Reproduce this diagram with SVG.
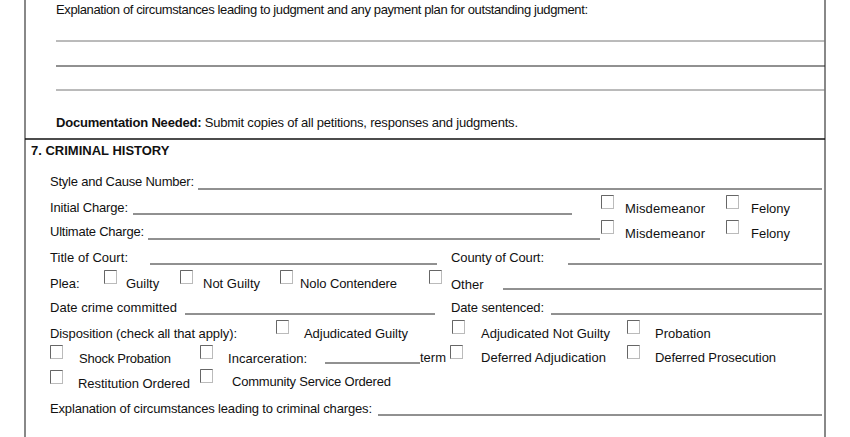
<svg xmlns="http://www.w3.org/2000/svg" width="850" height="437" viewBox="0 0 850 437">
<style>
text{font-family:"Liberation Sans",Arial,sans-serif;font-size:13px;fill:#111}
.b{font-weight:bold}
.l{stroke:#222;stroke-width:1}
.g{stroke:#777;stroke-width:1}
.cb{fill:#fff;stroke:#bbb;stroke-width:1}
.cbt{fill:none;stroke:#666;stroke-width:1}
</style>
<defs>
<g id="box"><rect class="cb" x="0.5" y="0.5" width="12" height="13"/><path class="cbt" d="M0.5 13.5V0.5H12.5"/></g>
</defs>
<rect width="850" height="437" fill="#fff"/>
<g id="frame">
<line x1="25" y1="0" x2="25" y2="437" stroke="#888" stroke-width="2"/>
<line x1="825" y1="0" x2="825" y2="437" stroke="#888" stroke-width="2"/>
<line x1="56" y1="41" x2="825" y2="41" class="g"/>
<line x1="56" y1="66" x2="825" y2="66" class="l"/>
<line x1="56" y1="90" x2="825" y2="90" class="g"/>
<line x1="25" y1="139" x2="825" y2="139" stroke="#111" stroke-width="1.5"/>
</g>
<g id="section6">
<text x="56" y="14" textLength="532">Explanation of circumstances leading to judgment and any payment plan for outstanding judgment:</text>
<text x="56" y="127" textLength="462"><tspan class="b">Documentation Needed:</tspan> Submit copies of all petitions, responses and judgments.</text>
</g>
<g id="section7">
<text x="31" y="155" class="b" font-size="12.5">7. CRIMINAL HISTORY</text>
<text x="50" y="186" textLength="144">Style and Cause Number:</text>
<line x1="198" y1="189" x2="822" y2="189" class="l"/>
<text x="50" y="212" textLength="78">Initial Charge:</text>
<line x1="133" y1="214" x2="572" y2="214" class="l"/>
<use href="#box" x="601" y="195"/><text x="625" y="213" textLength="80">Misdemeanor</text>
<use href="#box" x="726" y="195"/><text x="751" y="213">Felony</text>
<text x="50" y="236" textLength="94">Ultimate Charge:</text>
<line x1="148" y1="239" x2="600" y2="239" class="l"/>
<use href="#box" x="601" y="220"/><text x="625" y="238" textLength="80">Misdemeanor</text>
<use href="#box" x="726" y="220"/><text x="751" y="238">Felony</text>
<text x="50" y="262" textLength="78">Title of Court:</text>
<line x1="150" y1="264" x2="437" y2="264" class="l"/>
<text x="451" y="262" textLength="93">County of Court:</text>
<line x1="568" y1="264" x2="822" y2="264" class="l"/>
<text x="50" y="288">Plea:</text>
<use href="#box" x="104" y="270"/><text x="126" y="288">Guilty</text>
<use href="#box" x="180" y="270"/><text x="203" y="288" textLength="57">Not Guilty</text>
<use href="#box" x="280" y="270"/><text x="300" y="288" textLength="97">Nolo Contendere</text>
<use href="#box" x="429" y="270"/><text x="451" y="289">Other</text>
<line x1="503" y1="289" x2="822" y2="289" class="l"/>
<text x="50" y="312" textLength="127">Date crime committed</text>
<line x1="185" y1="314" x2="435" y2="314" class="l"/>
<text x="451" y="312" textLength="93">Date sentenced:</text>
<line x1="551" y1="314" x2="822" y2="314" class="l"/>
<text x="50" y="338" textLength="187">Disposition (check all that apply):</text>
<use href="#box" x="276" y="320"/><text x="304" y="338" textLength="104">Adjudicated Guilty</text>
<use href="#box" x="452" y="320"/><text x="481" y="338" textLength="129">Adjudicated Not Guilty</text>
<use href="#box" x="627" y="320"/><text x="655" y="338">Probation</text>
<use href="#box" x="50" y="345"/><text x="79" y="363" textLength="92">Shock Probation</text>
<use href="#box" x="200" y="345"/><text x="228" y="363" textLength="79">Incarceration:</text>
<line x1="325" y1="363" x2="420" y2="363" class="l"/><text x="420" y="362">term</text>
<use href="#box" x="450" y="345"/><text x="481" y="362" textLength="125">Deferred Adjudication</text>
<use href="#box" x="627" y="345"/><text x="655" y="362" textLength="121">Deferred Prosecution</text>
<use href="#box" x="50" y="370"/><text x="78" y="388" textLength="112">Restitution Ordered</text>
<use href="#box" x="200" y="369"/><text x="232" y="386" textLength="159">Community Service Ordered</text>
<text x="50" y="413" textLength="322">Explanation of circumstances leading to criminal charges:</text>
<line x1="378" y1="415" x2="822" y2="415" class="l"/>
</g>
</svg>
